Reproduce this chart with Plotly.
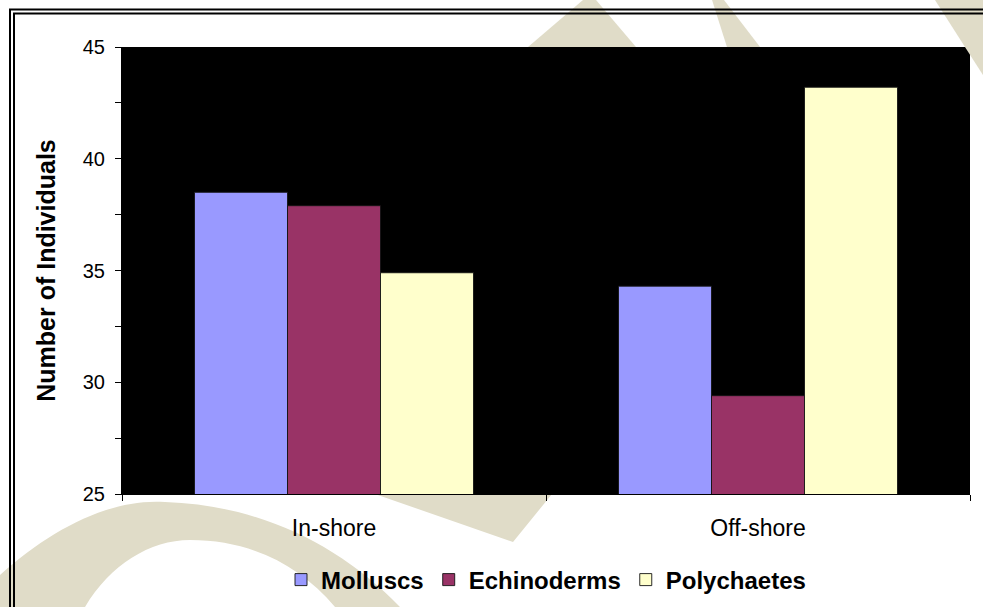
import plotly.graph_objects as go

# ---- data ----
sites = ["In-shore", "Off-shore"]
molluscs = [38.5, 34.3]
echinoderms = [37.9, 29.4]
polychaetes = [34.9, 43.2]
series_names = ["Molluscs", "Echinoderms", "Polychaetes"]
series_colors = ["#9999FF", "#993366", "#FFFFCC"]
y_ticks = [25, 30, 35, 40, 45]

W, H = 983, 607
L, R, T, B = 122, 13, 47, 113
PW, PH = W - L - R, H - T - B
FONT = "Liberation Sans, Arial, sans-serif"


def px(x, y):
    return (x - L) / PW, (H - B - y) / PH


def path(cmds):
    s = ""
    for c in cmds:
        op, pts = c[0], c[1:]
        s += " " + op + " " + " ".join("%.4f,%.4f" % px(*p) for p in pts)
    return s + " Z"


fig = go.Figure()
for name, vals, col in zip(series_names, [molluscs, echinoderms, polychaetes], series_colors):
    fig.add_trace(go.Bar(
        x=sites, y=vals, name=name, base=0,
        marker=dict(color=col, line=dict(color="rgba(20,20,20,0.9)", width=1)),
    ))

beige = "#E0DCC8"
shapes = []
wm = [
    # bottom-left arc
    [("M", (0, 607)), ("L", (0, 575)),
     ("C", (50, 530), (110, 498), (165, 502)),
     ("C", (260, 505), (340, 545), (400, 607)),
     ("L", (335, 607)),
     ("C", (300, 565), (250, 540), (190, 540)),
     ("C", (150, 540), (110, 565), (85, 607))],
    # diagonal stroke below plot
    [("M", (375, 494)), ("L", (552, 494)), ("L", (513, 542))],
    # top apex
    [("M", (583, 0)), ("L", (596, 0)), ("L", (636, 47)), ("L", (528, 47))],
    # narrow diagonal near top
    [("M", (712, 0)), ("L", (724, 0)), ("L", (760, 47)), ("L", (727, 47))],
    # top right band
    [("M", (935, 0)), ("L", (983, 0)), ("L", (983, 75)), ("L", (965, 47))],
]
for cmds in wm:
    shapes.append(dict(type="path", xref="paper", yref="paper", path=path(cmds),
                       fillcolor=beige, line=dict(width=0), layer="below"))

# double frame (extends beyond canvas right/bottom)
for off in [10, 14]:
    x0, y0 = px(off, off - 0.5)
    x1, y1 = px(W + 20, H + 20)
    shapes.append(dict(type="rect", xref="paper", yref="paper", x0=x0, y0=y0, x1=x1, y1=y1,
                       line=dict(color="black", width=2), fillcolor="rgba(0,0,0,0)", layer="above"))

fig.update_layout(
    width=W, height=H,
    margin=dict(l=L, r=R, t=T, b=B, autoexpand=False),
    paper_bgcolor="white",
    plot_bgcolor="black",
    barmode="group",
    bargap=0.342,
    bargroupgap=0.0,
    font=dict(family=FONT, color="black", size=20),
    shapes=shapes,
    showlegend=True,
    legend=dict(orientation="h", x=0.5, xanchor="center", y=px(0, 580)[1], yanchor="middle",
                font=dict(size=24, family=FONT, weight="bold"),
                itemwidth=30, bgcolor="rgba(0,0,0,0)", traceorder="normal"),
    xaxis=dict(
        showline=True, linecolor="black", linewidth=1,
        ticks="outside", tickson="boundaries", ticklen=6, tickcolor="black",
        tickfont=dict(size=23), showgrid=False, ticklabelstandoff=13,
    ),
    yaxis=dict(
        range=[25, 45], tickvals=y_ticks,
        showline=True, linecolor="black", linewidth=1,
        ticks="outside", ticklen=6, tickcolor="black",
        minor=dict(dtick=2.5, tick0=25, ticks="outside", ticklen=6, tickcolor="black", showgrid=False),
        showgrid=False, zeroline=False,
        tickfont=dict(size=20), ticklabelstandoff=6,
        title=dict(text="Number of Individuals", font=dict(size=25, weight="bold"), standoff=20),
    ),
)

fig.write_html("out.html", config={"displayModeBar": False},
               post_script="document.body.style.margin='0px';document.body.style.overflow='hidden';")
